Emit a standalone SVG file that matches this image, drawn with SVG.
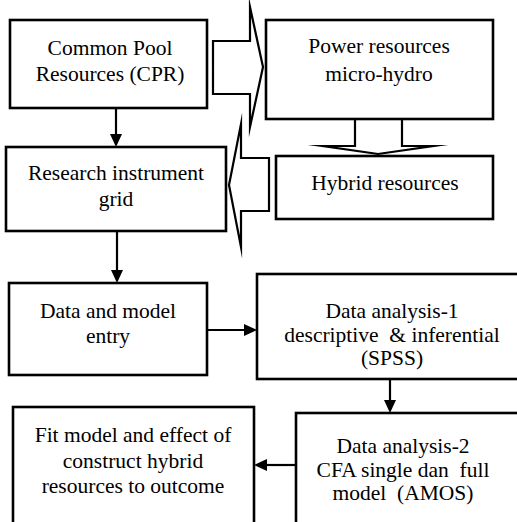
<svg xmlns="http://www.w3.org/2000/svg" width="517" height="522" viewBox="0 0 517 522">
  <rect width="517" height="522" fill="#fff"/>

  <!-- block arrows between the resource boxes -->
  <g id="connectors">
    <g fill="#fff" stroke="#000" stroke-width="2.2" stroke-miterlimit="20">
      <polygon points="213,41 250,41 250,7 263,67 250,127 250,94 213,94"/>
      <polygon points="269,158 241,158 241,124 229,185 241,247 241,211 269,211"/>
      <polygon points="355,119 355,146 323,146 378,154 433,146 402,146 402,119"/>
    </g>
    <g stroke="#000" stroke-width="2.2">
      <!-- CPR to research instrument -->
      <line x1="116" y1="108" x2="116" y2="136"/>
      <!-- research instrument to data entry -->
      <line x1="117" y1="231" x2="117" y2="272"/>
      <!-- data entry to analysis 1 -->
      <line x1="207" y1="330" x2="246" y2="330"/>
      <!-- analysis 1 to analysis 2 -->
      <line x1="390" y1="379" x2="390" y2="402"/>
      <!-- analysis 2 to fit model -->
      <line x1="296" y1="465" x2="265" y2="465"/>
    </g>
    <g fill="#000">
      <polygon points="110,134 122,134 116,147"/>
      <polygon points="111,270 123,270 117,283"/>
      <polygon points="244,324 244,336 257,330"/>
      <polygon points="384,400 396,400 390,413"/>
      <polygon points="267,459 267,471 254,465"/>
    </g>
  </g>

  <g id="cpr">
    <rect x="10" y="20" width="197" height="88" fill="#fff" stroke="#000" stroke-width="2.6"/>
    <text x="110" y="55" font-family="Liberation Serif" font-size="21.5" text-anchor="middle">Common Pool</text>
    <text x="110" y="81" font-family="Liberation Serif" font-size="21.5" text-anchor="middle">Resources (CPR)</text>
  </g>

  <g id="power">
    <rect x="266" y="20" width="227" height="99" fill="#fff" stroke="#000" stroke-width="2.6"/>
    <text x="379" y="53" font-family="Liberation Serif" font-size="21.5" text-anchor="middle">Power resources</text>
    <text x="379" y="81" font-family="Liberation Serif" font-size="21.5" text-anchor="middle">micro-hydro</text>
  </g>

  <g id="hybrid">
    <rect x="276" y="156" width="217" height="63" fill="#fff" stroke="#000" stroke-width="2.6"/>
    <text x="385" y="190" font-family="Liberation Serif" font-size="21.5" text-anchor="middle">Hybrid resources</text>
  </g>

  <g id="instrument">
    <rect x="6" y="147" width="220" height="84" fill="#fff" stroke="#000" stroke-width="2.6"/>
    <text x="116" y="180" font-family="Liberation Serif" font-size="21.5" text-anchor="middle">Research instrument</text>
    <text x="116" y="206" font-family="Liberation Serif" font-size="21.5" text-anchor="middle">grid</text>
  </g>

  <g id="entry">
    <rect x="9" y="283" width="198" height="92" fill="#fff" stroke="#000" stroke-width="2.6"/>
    <text x="108" y="318" font-family="Liberation Serif" font-size="21.5" text-anchor="middle">Data and model</text>
    <text x="108" y="343" font-family="Liberation Serif" font-size="21.5" text-anchor="middle">entry</text>
  </g>

  <g id="analysis1">
    <rect x="257" y="274" width="280" height="105" fill="#fff" stroke="#000" stroke-width="2.6"/>
    <text x="392" y="318" font-family="Liberation Serif" font-size="21.5" text-anchor="middle">Data analysis-1</text>
    <text x="392" y="342" font-family="Liberation Serif" font-size="21.5" text-anchor="middle">descriptive &#160;&amp; inferential</text>
    <text x="392" y="365" font-family="Liberation Serif" font-size="21.5" text-anchor="middle">(SPSS)</text>
  </g>

  <g id="analysis2">
    <rect x="296" y="413" width="240" height="130" fill="#fff" stroke="#000" stroke-width="2.6"/>
    <text x="403" y="453" font-family="Liberation Serif" font-size="21.5" text-anchor="middle">Data analysis-2</text>
    <text x="403" y="477" font-family="Liberation Serif" font-size="21.5" text-anchor="middle">CFA single dan &#160;full</text>
    <text x="403" y="500" font-family="Liberation Serif" font-size="21.5" text-anchor="middle">model &#160;(AMOS)</text>
  </g>

  <g id="fit">
    <rect x="13" y="407" width="241" height="130" fill="#fff" stroke="#000" stroke-width="2.6"/>
    <text x="133" y="442" font-family="Liberation Serif" font-size="21.5" text-anchor="middle">Fit model and effect of</text>
    <text x="133" y="468" font-family="Liberation Serif" font-size="21.5" text-anchor="middle">construct hybrid</text>
    <text x="133" y="493" font-family="Liberation Serif" font-size="21.5" text-anchor="middle">resources to outcome</text>
  </g>
</svg>
